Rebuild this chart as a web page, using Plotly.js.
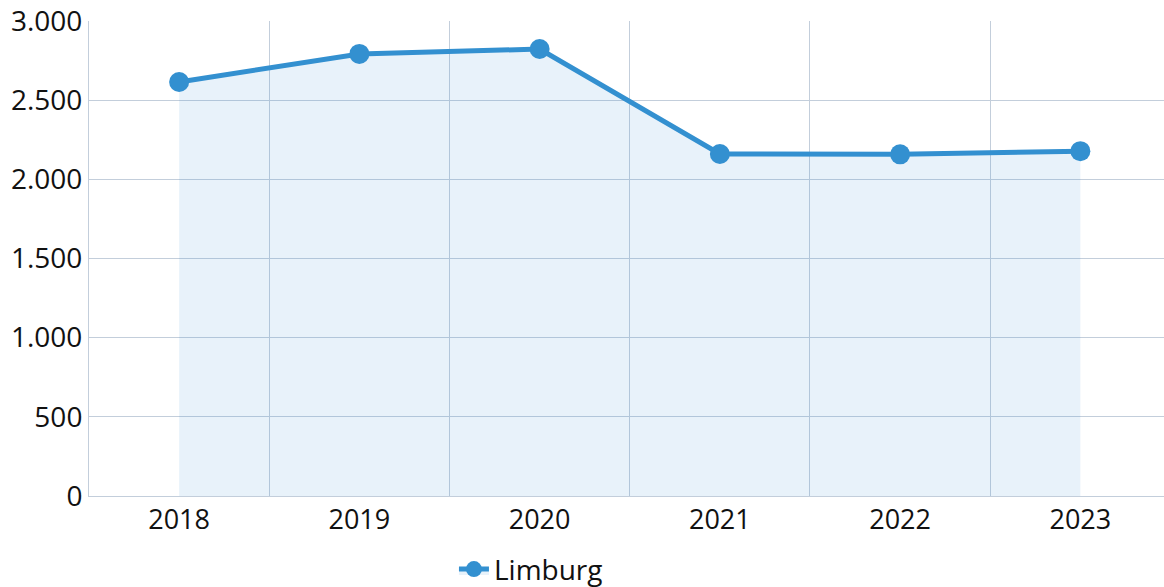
<!DOCTYPE html>
<html>
<head>
<meta charset="utf-8">
<script src="https://cdn.plot.ly/plotly-3.0.1.min.js"></script>
<style>html,body{margin:0;padding:0;background:#fff;}#chart{width:1164px;height:587px;}</style>
</head>
<body>
<div id="chart"></div>
<script>
const years = ['2018', '2019', '2020', '2021', '2022', '2023'];
const limburg = [2615, 2792, 2823, 2160, 2158, 2178];
const seriesName = 'Limburg';
const yTicks = [0, 500, 1000, 1500, 2000, 2500, 3000];

const trace = {
  x: years,
  y: limburg,
  name: seriesName,
  type: 'scatter',
  mode: 'lines+markers',
  fill: 'tozeroy',
  fillcolor: 'rgba(52,144,208,0.115)',
  line: {color: '#3390d0', width: 5},
  marker: {color: '#3390d0', size: 20},
  hoverinfo: 'x+y'
};

const gridColor = '#c3cedb';
const layout = {
  width: 1164,
  height: 587,
  margin: {l: 89, r: 0, t: 21, b: 91},
  paper_bgcolor: '#ffffff',
  plot_bgcolor: '#ffffff',
  separators: ',.',
  font: {family: '"Open Sans", "Noto Sans", sans-serif', size: 28, color: '#111111'},
  showlegend: true,
  xaxis: {
    type: 'category',
    tickson: 'boundaries',
    showgrid: true,
    gridcolor: gridColor,
    gridwidth: 1,
    showline: true,
    linecolor: gridColor,
    ticks: '',
    zeroline: false,
    range: [-0.5, 5.464],
    tickfont: {size: 27}
  },
  yaxis: {
    range: [0, 3000],
    tickvals: yTicks,
    tickformat: ',d',
    showgrid: true,
    gridcolor: gridColor,
    gridwidth: 1,
    showline: true,
    linecolor: gridColor,
    zeroline: false,
    ticks: '',
    tickfont: {size: 28}
  },
  legend: {
    orientation: 'h',
    xref: 'container',
    yref: 'container',
    x: 0.39,
    xanchor: 'left',
    y: 0.03,
    yanchor: 'middle',
    font: {size: 28}
  }
};

Plotly.newPlot('chart', [trace], layout, {displayModeBar: false, staticPlot: true});
</script>
</body>
</html>
